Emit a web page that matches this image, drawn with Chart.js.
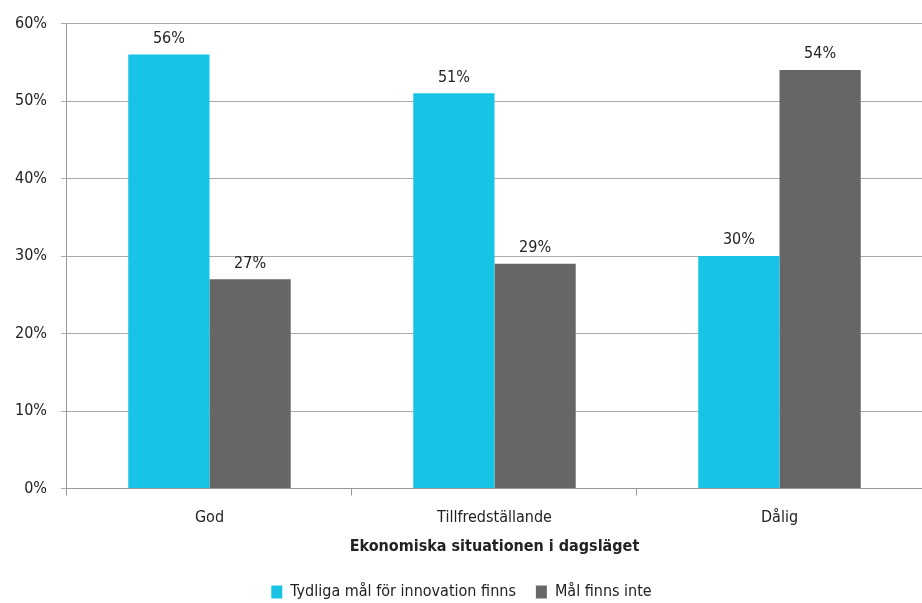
<!DOCTYPE html>
<html>
<head>
<meta charset="utf-8">
<script src="https://cdn.jsdelivr.net/npm/chart.js@4/dist/chart.umd.min.js"></script>
<style>
  body { margin: 0; background: #fff; }
  #wrap { width: 922px; height: 603px; }
</style>
</head>
<body>
<div id="wrap"><canvas id="chart" width="922" height="603"></canvas></div>
<script>
const categories = ["God", "Tillfredställande", "Dålig"]
const tydligaMal = [56, 51, 30]
const malFinnsInte = [27, 29, 54]
const yTicks = [0, 10, 20, 30, 40, 50, 60]

const FONT = "'DejaVu Sans Condensed', 'Liberation Sans Narrow', sans-serif"

// Draw the percentage above each bar
const barLabels = {
    id: "barLabels",
    afterDatasetsDraw(chart) {
        const ctx = chart.ctx
        ctx.save()
        ctx.font = "16px " + FONT
        ctx.fillStyle = "#222"
        ctx.textAlign = "center"
        ctx.textBaseline = "bottom"
        chart.data.datasets.forEach((ds, i) => {
            chart.getDatasetMeta(i).data.forEach((bar, j) => {
                ctx.fillText(ds.data[j] + "%", bar.x, bar.y - 8)
            })
        })
        ctx.restore()
    }
}

new Chart(document.getElementById("chart"), {
    type: "bar",
    data: {
        labels: categories,
        datasets: [
            { label: "Tydliga mål för innovation finns", data: tydligaMal, backgroundColor: "#17C4E6" },
            { label: "Mål finns inte", data: malFinnsInte, backgroundColor: "#666666" }
        ]
    },
    options: {
        responsive: false,
        animation: false,
        layout: { padding: { top: 21, right: 0, left: 1, bottom: -7 } },
        categoryPercentage: 0.57,
        barPercentage: 1,
        plugins: {
            legend: {
                position: "bottom",
                labels: {
                    font: { family: FONT, size: 16 },
                    color: "#222",
                    boxWidth: 11,
                    boxHeight: 13,
                    padding: 20
                }
            },
            tooltip: { enabled: false }
        },
        scales: {
            x: {
                grid: { offset: true, drawOnChartArea: false, color: "#999", tickLength: 7 },
                border: { color: "#999" },
                ticks: { font: { family: FONT, size: 16 }, color: "#222", padding: 13 },
                title: {
                    display: true,
                    text: "Ekonomiska situationen i dagsläget",
                    font: { family: FONT, size: 16, weight: "bold" },
                    color: "#222",
                    padding: { top: -4, bottom: 8 }
                }
            },
            y: {
                min: 0,
                max: 60,
                afterBuildTicks: axis => { axis.ticks = yTicks.map(v => ({ value: v })) },
                grid: { color: "#aaa", tickLength: 6 },
                border: { color: "#999" },
                ticks: {
                    font: { family: FONT, size: 16 },
                    color: "#222",
                    padding: 14,
                    callback: v => v + "%"
                }
            }
        }
    },
    plugins: [barLabels]
})
</script>
</body>
</html>
